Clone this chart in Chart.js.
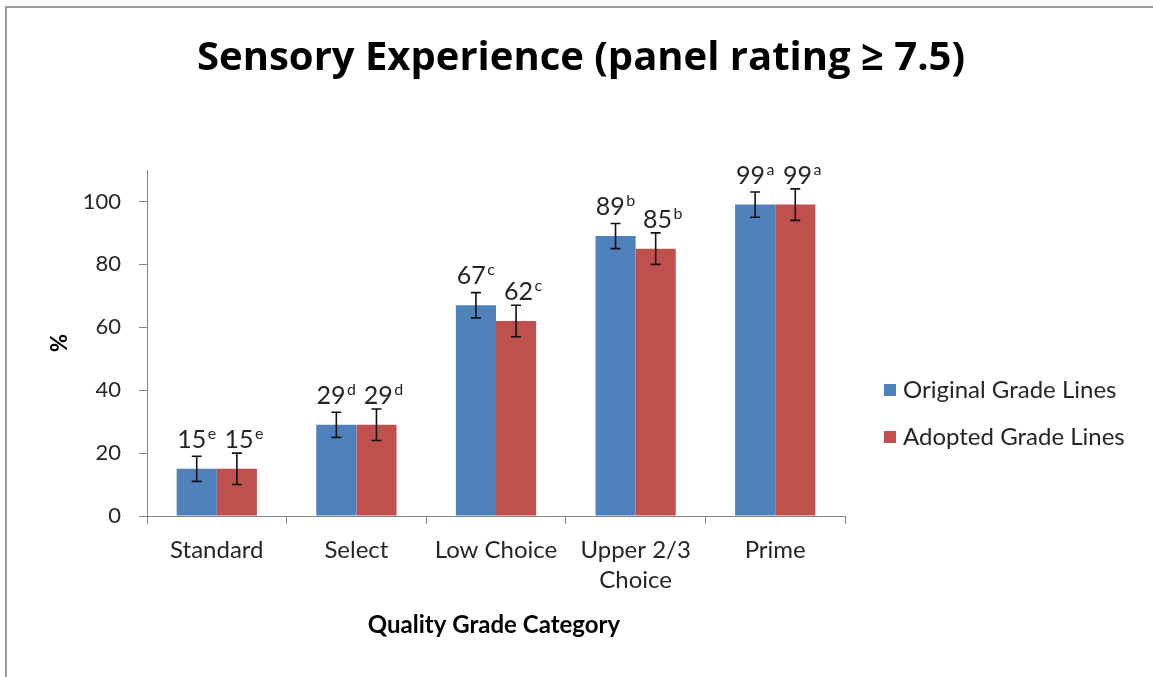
<!DOCTYPE html>
<html><head><meta charset="utf-8">
<script src="https://cdn.jsdelivr.net/npm/chart.js@4"></script>
<style>html,body{margin:0;padding:0;background:#fff}#wrap{width:1153px;height:677px;position:relative}canvas{display:block}</style>
</head><body><div id="wrap"><canvas id="c" width="1153" height="677"></canvas></div>
<script>
const categories = ['Standard', 'Select', 'Low Choice', ['Upper 2/3', 'Choice'], 'Prime'];
const seriesNames = ['Original Grade Lines', 'Adopted Grade Lines'];
const original = [15, 29, 67, 89, 99];
const adopted = [15, 29, 62, 85, 99];
const originalErr = [4, 4, 4, 4, 4];
const adoptedErr = [5, 5, 5, 5, 5];
const originalLetters = ['e', 'd', 'c', 'b', 'a'];
const adoptedLetters = ['e', 'd', 'c', 'b', 'a'];
const yTicks = [0, 20, 40, 60, 80, 100];

const FONT = 'Lato, "Open Sans", sans-serif';
const TXT = '#262626';
const colors = ['#4F81BD', '#C0504D'];
const labelShift = [0, 7];

const decor = {
  id: 'decor',
  beforeDraw(chart) {
    const c = chart.ctx;
    c.save();
    c.fillStyle = '#fff';
    c.fillRect(0, 0, chart.width, chart.height);
    c.strokeStyle = '#9a9a9a';
    c.lineWidth = 2;
    c.beginPath();
    c.moveTo(6, chart.height + 5);
    c.lineTo(6, 7);
    c.lineTo(chart.width + 5, 7);
    c.stroke();
    c.restore();
  },
  afterDatasetsDraw(chart) {
    const c = chart.ctx;
    const ys = chart.scales.y;
    c.save();
    chart.data.datasets.forEach((ds, di) => {
      const meta = chart.getDatasetMeta(di);
      meta.data.forEach((el, i) => {
        const v = ds.data[i], e = ds.errors[i];
        const x = el.x;
        const yt = ys.getPixelForValue(v + e), yb = ys.getPixelForValue(v - e);
        c.strokeStyle = '#111';
        c.lineWidth = 1.6;
        c.beginPath();
        c.moveTo(x, yt); c.lineTo(x, yb);
        c.moveTo(x - 5, yt); c.lineTo(x + 5, yt);
        c.moveTo(x - 5, yb); c.lineTo(x + 5, yb);
        c.stroke();
        const num = String(v), let_ = ds.letters[i];
        c.font = '25px ' + FONT;
        const wn = c.measureText(num).width;
        c.font = '16px ' + FONT;
        const wl = c.measureText(let_).width;
        const tot = wn + 1.5 + wl;
        const base = el.y - 21;
        const x0 = x + labelShift[di] - tot / 2;
        c.fillStyle = TXT;
        c.textAlign = 'left';
        c.textBaseline = 'alphabetic';
        c.font = '25px ' + FONT;
        c.fillText(num, x0, base);
        c.font = '16px ' + FONT;
        c.fillText(let_, x0 + wn + 1.5, base - 9);
      });
    });
    c.fillStyle = '#000';
    c.textAlign = 'center';
    c.textBaseline = 'alphabetic';
    c.font = 'bold 40px "Open Sans", Lato, sans-serif';
    c.fillText('Sensory Experience (panel rating \u2265 7.5)', 581, 70);
    c.font = 'bold 24px ' + FONT;
    c.fillText('Quality Grade Category', 494, 633);
    c.save();
    c.translate(60, 343);
    c.rotate(-Math.PI / 2);
    c.textBaseline = 'middle';
    c.font = 'bold 22px ' + FONT;
    c.fillText('%', 0, 0);
    c.restore();
    const rows = [390, 437];
    seriesNames.forEach((n, k) => {
      c.fillStyle = colors[k];
      c.fillRect(884, rows[k] - 6, 12, 12);
      c.fillStyle = TXT;
      c.textAlign = 'left';
      c.textBaseline = 'middle';
      c.font = '24px ' + FONT;
      c.fillText(n, 903, rows[k]);
    });
    c.restore();
  }
};

new Chart(document.getElementById('c'), {
  type: 'bar',
  data: {
    labels: categories,
    datasets: [
      { label: seriesNames[0], data: original, errors: originalErr, letters: originalLetters, backgroundColor: colors[0] },
      { label: seriesNames[1], data: adopted, errors: adoptedErr, letters: adoptedLetters, backgroundColor: colors[1] }
    ]
  },
  options: {
    responsive: false,
    animation: false,
    devicePixelRatio: 1,
    datasets: { bar: { categoryPercentage: 0.575, barPercentage: 1.0 } },
    layout: { padding: { left: 0, top: 170, right: 308, bottom: 0 } },
    plugins: { legend: { display: false }, title: { display: false }, tooltip: { enabled: false } },
    scales: {
      x: {
        grid: { display: true, drawOnChartArea: false, tickLength: 8, color: '#868686', offset: true },
        border: { color: '#868686', width: 1 },
        ticks: { font: { family: FONT, size: 24, lineHeight: 1.25 }, color: TXT, padding: 11, maxRotation: 0, autoSkip: false },
        afterFit(s) { s.height = 161; }
      },
      y: {
        min: 0, max: 110,
        afterBuildTicks(s) { s.ticks = yTicks.map(v => ({ value: v })); },
        grid: { display: true, drawOnChartArea: false, tickLength: 8, color: '#868686' },
        border: { color: '#868686', width: 1 },
        ticks: { font: { family: FONT, size: 22 }, color: TXT, padding: 18 },
        afterFit(s) { s.width = 147; }
      }
    }
  },
  plugins: [decor]
});
</script>
</body></html>
